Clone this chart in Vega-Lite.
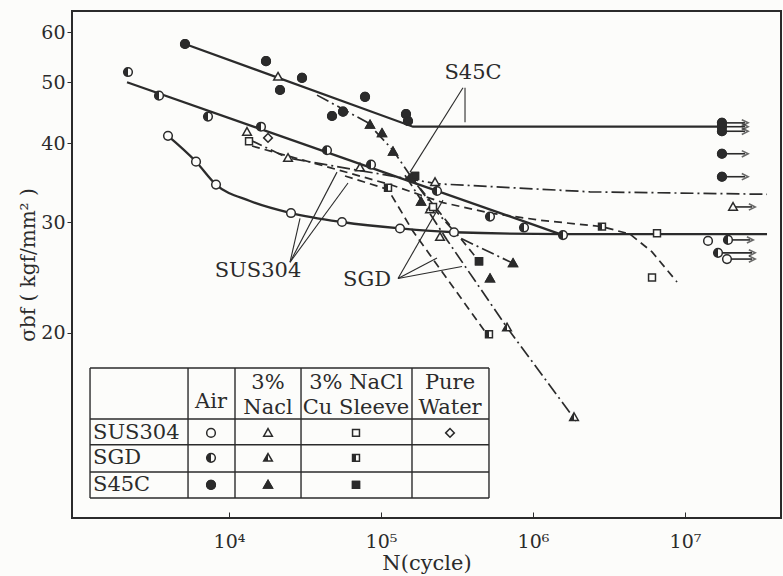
{
  "$schema": "https://vega.github.io/schema/vega-lite/v6.json",
  "width": 709,
  "height": 507,
  "autosize": {"type": "none"},
  "padding": {"left": 72, "top": 11, "right": 2, "bottom": 58},
  "background": "#fcfcfa",
  "config": {
    "font": "DejaVu Serif",
    "view": {"stroke": "#2b2b2b", "strokeWidth": 2},
    "axis": {"labelColor": "#2b2b2b", "titleColor": "#2b2b2b", "tickColor": "#2b2b2b", "titleFontWeight": "normal", "grid": false, "domain": false}
  },
  "resolve": {"scale": {"shape": "independent"}},
  "datasets": {
    "pts": [
      {"m": "S45C", "e": "Air", "N": 5134, "s": 57.5},
      {"m": "S45C", "e": "Air", "N": 17516, "s": 54.0},
      {"m": "S45C", "e": "Air", "N": 30213, "s": 50.8},
      {"m": "S45C", "e": "Air", "N": 21652, "s": 48.6},
      {"m": "S45C", "e": "Air", "N": 78485, "s": 47.4},
      {"m": "S45C", "e": "Air", "N": 47605, "s": 44.2},
      {"m": "S45C", "e": "Air", "N": 56234, "s": 44.9},
      {"m": "S45C", "e": "Air", "N": 146000, "s": 44.5},
      {"m": "S45C", "e": "Air", "N": 150500, "s": 43.4},
      {"m": "S45C", "e": "Air", "N": 159900, "s": 35.2},
      {"m": "S45C", "e": "Air", "N": 17500000, "s": 43.1},
      {"m": "S45C", "e": "Air", "N": 17500000, "s": 42.5},
      {"m": "S45C", "e": "Air", "N": 17500000, "s": 41.8},
      {"m": "S45C", "e": "Air", "N": 17500000, "s": 38.5},
      {"m": "S45C", "e": "Air", "N": 17500000, "s": 35.4},
      {"m": "S45C", "e": "NaCl", "N": 84649, "s": 42.8},
      {"m": "S45C", "e": "NaCl", "N": 101500, "s": 41.5},
      {"m": "S45C", "e": "NaCl", "N": 119930, "s": 38.8},
      {"m": "S45C", "e": "NaCl", "N": 183400, "s": 32.3},
      {"m": "S45C", "e": "NaCl", "N": 738700, "s": 25.8},
      {"m": "S45C", "e": "NaCl", "N": 521300, "s": 24.4},
      {"m": "S45C", "e": "Cu", "N": 167400, "s": 35.5},
      {"m": "S45C", "e": "Cu", "N": 441300, "s": 26.0},
      {"m": "SGD", "e": "Air", "N": 2165, "s": 51.9},
      {"m": "SGD", "e": "Air", "N": 3464, "s": 47.6},
      {"m": "SGD", "e": "Air", "N": 7274, "s": 44.1},
      {"m": "SGD", "e": "Air", "N": 16233, "s": 42.5},
      {"m": "SGD", "e": "Air", "N": 44129, "s": 39.0},
      {"m": "SGD", "e": "Air", "N": 85950, "s": 37.0},
      {"m": "SGD", "e": "Air", "N": 233600, "s": 33.6},
      {"m": "SGD", "e": "Air", "N": 521300, "s": 30.6},
      {"m": "SGD", "e": "Air", "N": 872700, "s": 29.4},
      {"m": "SGD", "e": "Air", "N": 1575000, "s": 28.6},
      {"m": "SGD", "e": "Air", "N": 19180000, "s": 28.1},
      {"m": "SGD", "e": "Air", "N": 16490000, "s": 26.8},
      {"m": "SGD", "e": "NaCl", "N": 674500, "s": 20.4},
      {"m": "SGD", "e": "NaCl", "N": 1861000, "s": 14.7},
      {"m": "SGD", "e": "Cu", "N": 111200, "s": 34.0},
      {"m": "SGD", "e": "Cu", "N": 513300, "s": 19.9},
      {"m": "SGD", "e": "Cu", "N": 2843000, "s": 29.5},
      {"m": "SUS304", "e": "Air", "N": 3968, "s": 41.1},
      {"m": "SUS304", "e": "Air", "N": 6067, "s": 37.4},
      {"m": "SUS304", "e": "Air", "N": 8213, "s": 34.4},
      {"m": "SUS304", "e": "Air", "N": 25575, "s": 31.0},
      {"m": "SUS304", "e": "Air", "N": 55385, "s": 30.0},
      {"m": "SUS304", "e": "Air", "N": 133350, "s": 29.3},
      {"m": "SUS304", "e": "Air", "N": 302100, "s": 28.9},
      {"m": "SUS304", "e": "Air", "N": 14170000, "s": 28.0},
      {"m": "SUS304", "e": "Air", "N": 18890000, "s": 26.2},
      {"m": "SUS304", "e": "NaCl", "N": 21011, "s": 51.0},
      {"m": "SUS304", "e": "NaCl", "N": 13133, "s": 41.7},
      {"m": "SUS304", "e": "NaCl", "N": 24443, "s": 37.9},
      {"m": "SUS304", "e": "NaCl", "N": 72739, "s": 36.6},
      {"m": "SUS304", "e": "NaCl", "N": 226700, "s": 34.7},
      {"m": "SUS304", "e": "NaCl", "N": 210100, "s": 31.4},
      {"m": "SUS304", "e": "NaCl", "N": 244400, "s": 28.4},
      {"m": "SUS304", "e": "NaCl", "N": 20700000, "s": 31.7},
      {"m": "SUS304", "e": "Cu", "N": 13540, "s": 40.3},
      {"m": "SUS304", "e": "Cu", "N": 219900, "s": 31.7},
      {"m": "SUS304", "e": "Cu", "N": 6543000, "s": 28.8},
      {"m": "SUS304", "e": "Cu", "N": 6067000, "s": 24.5},
      {"m": "SUS304", "e": "Water", "N": 18057, "s": 40.8},
      {"m": "SUS304", "e": "Air", "N": 7613, "s": 13.88, "key": true},
      {"m": "SUS304", "e": "NaCl", "N": 18057, "s": 13.88, "key": true},
      {"m": "SUS304", "e": "Cu", "N": 68470, "s": 13.88, "key": true},
      {"m": "SUS304", "e": "Water", "N": 284400, "s": 13.88, "key": true},
      {"m": "SGD", "e": "Air", "N": 7613, "s": 12.67, "key": true},
      {"m": "SGD", "e": "NaCl", "N": 18057, "s": 12.67, "key": true},
      {"m": "SGD", "e": "Cu", "N": 68470, "s": 12.67, "key": true},
      {"m": "S45C", "e": "Air", "N": 7613, "s": 11.48, "key": true},
      {"m": "S45C", "e": "NaCl", "N": 18057, "s": 11.48, "key": true},
      {"m": "S45C", "e": "Cu", "N": 68470, "s": 11.48, "key": true}
    ],
    "lines": [
      {"id": "S45C-Air", "sty": "solid", "c": 0, "o": 1, "N": 5134, "s": 57.5},
      {"id": "S45C-Air", "sty": "solid", "c": 0, "o": 2, "N": 162330, "s": 42.5},
      {"id": "S45C-Air", "sty": "solid", "c": 0, "o": 3, "N": 17516000, "s": 42.5},
      {"id": "SGD-Air", "sty": "solid", "c": 0, "o": 1, "N": 2133, "s": 50.0},
      {"id": "SGD-Air", "sty": "solid", "c": 0, "o": 2, "N": 1575000, "s": 28.6},
      {"id": "SUS304-Air", "sty": "solid", "c": 1, "o": 1, "N": 3968, "s": 41.1},
      {"id": "SUS304-Air", "sty": "solid", "c": 1, "o": 2, "N": 6067, "s": 37.4},
      {"id": "SUS304-Air", "sty": "solid", "c": 1, "o": 3, "N": 8213, "s": 34.4},
      {"id": "SUS304-Air", "sty": "solid", "c": 1, "o": 4, "N": 13744, "s": 32.4},
      {"id": "SUS304-Air", "sty": "solid", "c": 1, "o": 5, "N": 25575, "s": 31.0},
      {"id": "SUS304-Air", "sty": "solid", "c": 1, "o": 6, "N": 55385, "s": 30.0},
      {"id": "SUS304-Air", "sty": "solid", "c": 1, "o": 7, "N": 133350, "s": 29.3},
      {"id": "SUS304-Air", "sty": "solid", "c": 1, "o": 8, "N": 302100, "s": 28.9},
      {"id": "SUS304-Air", "sty": "solid", "c": 1, "o": 9, "N": 1575000, "s": 28.7},
      {"id": "SUS304-Air", "sty": "solid", "c": 1, "o": 10, "N": 34640000, "s": 28.7},
      {"id": "S45C-NaCl", "sty": "dashdot", "o": 1, "N": 37931, "s": 47.7},
      {"id": "S45C-NaCl", "sty": "dashdot", "o": 2, "N": 80906, "s": 43.2},
      {"id": "S45C-NaCl", "sty": "dashdot", "o": 3, "N": 119930, "s": 39.0},
      {"id": "S45C-NaCl", "sty": "dashdot", "o": 4, "N": 155200, "s": 35.6},
      {"id": "S45C-NaCl", "sty": "dashdot", "o": 5, "N": 233600, "s": 31.1},
      {"id": "S45C-NaCl", "sty": "dashdot", "o": 6, "N": 330900, "s": 28.3},
      {"id": "S45C-NaCl", "sty": "dashdot", "o": 7, "N": 738700, "s": 25.8},
      {"id": "SGD-NaCl", "sty": "dashdot", "o": 1, "N": 143800, "s": 35.6},
      {"id": "SGD-NaCl", "sty": "dashdot", "o": 2, "N": 271800, "s": 28.1},
      {"id": "SGD-NaCl", "sty": "dashdot", "o": 3, "N": 674500, "s": 20.4},
      {"id": "SGD-NaCl", "sty": "dashdot", "o": 4, "N": 1918000, "s": 14.5},
      {"id": "SGD-Cu", "sty": "dash", "o": 1, "N": 57980, "s": 35.5},
      {"id": "SGD-Cu", "sty": "dash", "o": 2, "N": 111200, "s": 33.8},
      {"id": "SGD-Cu", "sty": "dash", "o": 3, "N": 162330, "s": 29.0},
      {"id": "SGD-Cu", "sty": "dash", "o": 4, "N": 490800, "s": 20.0},
      {"id": "SUS304-NaCl", "sty": "dashdot", "o": 1, "N": 13744, "s": 40.5},
      {"id": "SUS304-NaCl", "sty": "dashdot", "o": 2, "N": 24443, "s": 37.9},
      {"id": "SUS304-NaCl", "sty": "dashdot", "o": 3, "N": 72739, "s": 36.2},
      {"id": "SUS304-NaCl", "sty": "dashdot", "o": 4, "N": 233600, "s": 34.5},
      {"id": "SUS304-NaCl", "sty": "dashdot", "o": 5, "N": 2371000, "s": 33.5},
      {"id": "SUS304-NaCl", "sty": "dashdot", "o": 6, "N": 34640000, "s": 33.2},
      {"id": "SUS304-Cu", "sty": "dash", "o": 1, "N": 14170, "s": 39.6},
      {"id": "SUS304-Cu", "sty": "dash", "o": 2, "N": 46190, "s": 36.6},
      {"id": "SUS304-Cu", "sty": "dash", "o": 3, "N": 114600, "s": 34.4},
      {"id": "SUS304-Cu", "sty": "dash", "o": 4, "N": 255700, "s": 32.2},
      {"id": "SUS304-Cu", "sty": "dash", "o": 5, "N": 521300, "s": 31.0},
      {"id": "SUS304-Cu", "sty": "dash", "o": 6, "N": 1112000, "s": 30.2},
      {"id": "SUS304-Cu", "sty": "dash", "o": 7, "N": 2843000, "s": 29.5},
      {"id": "SUS304-Cu", "sty": "dash", "o": 8, "N": 4347000, "s": 28.7},
      {"id": "SUS304-Cu", "sty": "dash", "o": 9, "N": 6067000, "s": 26.9},
      {"id": "SUS304-Cu", "sty": "dash", "o": 10, "N": 8859000, "s": 24.1},
      {"id": "S45C-Cu", "sty": "dash", "o": 1, "N": 159900, "s": 35.2},
      {"id": "S45C-Cu", "sty": "dash", "o": 2, "N": 441300, "s": 26.0}
    ],
    "table": [
      {"N": 1218, "s": 17.6, "N2": 513300, "s2": 17.6},
      {"N": 1218, "s": 14.6, "N2": 513300, "s2": 14.6},
      {"N": 1218, "s": 13.29, "N2": 513300, "s2": 13.29},
      {"N": 1218, "s": 12.03, "N2": 513300, "s2": 12.03},
      {"N": 1218, "s": 10.94, "N2": 513300, "s2": 10.94},
      {"N": 1218, "s": 10.94, "N2": 1218, "s2": 17.6},
      {"N": 5375, "s": 10.94, "N2": 5375, "s2": 17.6},
      {"N": 10950, "s": 10.94, "N2": 10950, "s2": 17.6},
      {"N": 29770, "s": 10.94, "N2": 29770, "s2": 17.6},
      {"N": 159900, "s": 10.94, "N2": 159900, "s2": 17.6},
      {"N": 513300, "s": 10.94, "N2": 513300, "s2": 17.6}
    ],
    "notes": [
      {"N": 357000, "s": 49.0, "N2": 357000, "s2": 43.2},
      {"N": 346300, "s": 49.0, "N2": 155200, "s2": 36.0},
      {"N": 25200, "s": 25.9, "N2": 51340, "s2": 36.0},
      {"N": 25200, "s": 25.9, "N2": 60670, "s2": 34.6},
      {"N": 25200, "s": 25.9, "N2": 29320, "s2": 30.4},
      {"N": 129400, "s": 24.4, "N2": 255700, "s2": 32.5},
      {"N": 129400, "s": 24.4, "N2": 233600, "s2": 26.3},
      {"N": 129400, "s": 24.4, "N2": 341200, "s2": 25.5}
    ],
    "runouts": [
      {"N": 17500000, "s": 43.1, "N2": 24800000},
      {"N": 17500000, "s": 42.5, "N2": 24800000},
      {"N": 17500000, "s": 41.8, "N2": 24800000},
      {"N": 17500000, "s": 38.5, "N2": 24800000},
      {"N": 17500000, "s": 35.4, "N2": 24800000},
      {"N": 20700000, "s": 31.7, "N2": 27600000},
      {"N": 19180000, "s": 28.1, "N2": 26800000},
      {"N": 16490000, "s": 26.8, "N2": 27600000},
      {"N": 18890000, "s": 26.2, "N2": 27600000}
    ],
    "texts": [
      {"txt": "S45C", "N": 402900, "s": 51.7, "k": "note"},
      {"txt": "SUS304", "N": 15510, "s": 25.1, "k": "note"},
      {"txt": "SGD", "N": 80906, "s": 24.3, "k": "note"},
      {"txt": "Air", "N": 7613, "s": 15.54, "k": "cell"},
      {"txt": "3%", "N": 18057, "s": 16.66, "k": "cell"},
      {"txt": "Nacl", "N": 18057, "s": 15.2, "k": "cell"},
      {"txt": "3% NaCl", "N": 68470, "s": 16.66, "k": "cell"},
      {"txt": "Cu Sleeve", "N": 68470, "s": 15.2, "k": "cell"},
      {"txt": "Pure", "N": 284400, "s": 16.66, "k": "cell"},
      {"txt": "Water", "N": 284400, "s": 15.2, "k": "cell"},
      {"txt": "SUS304", "N": 1274, "s": 13.88, "k": "row"},
      {"txt": "SGD", "N": 1274, "s": 12.67, "k": "row"},
      {"txt": "S45C", "N": 1274, "s": 11.48, "k": "row"}
    ]
  },
  "encoding": {
    "x": {
      "field": "N", "type": "quantitative",
      "scale": {"type": "log", "domain": [926.9, 42810000], "nice": false},
      "axis": {
        "title": "N(cycle)",
        "values": [10000, 100000, 1000000, 10000000],
        "labelExpr": "datum.value == 10000 ? '10⁴' : datum.value == 100000 ? '10⁵' : datum.value == 1000000 ? '10⁶' : '10⁷'",
        "tickSize": -6, "labelFontSize": 19, "labelPadding": 20,
        "titleFontSize": 21, "titlePadding": 1
      }
    },
    "y": {
      "field": "s", "type": "quantitative",
      "scale": {"type": "log", "domain": [10.17, 64.87], "nice": false},
      "axis": {
        "title": "σbf ( kgf/mm² )",
        "values": [20, 30, 40, 50, 60],
        "tickSize": 5, "labelFontSize": 19, "labelPadding": 2,
        "titleFontSize": 20, "titlePadding": 2
      }
    }
  },
  "layer": [
    {
      "data": {"name": "table"},
      "mark": {"type": "rule", "color": "#2b2b2b", "strokeWidth": 1.4},
      "encoding": {"x2": {"field": "N2"}, "y2": {"field": "s2"}}
    },
    {
      "data": {"name": "lines"},
      "transform": [{"filter": "datum.sty == 'solid' && datum.c == 0"}],
      "mark": {"type": "line", "color": "#2b2b2b", "strokeWidth": 2.3},
      "encoding": {"detail": {"field": "id"}, "order": {"field": "o"}}
    },
    {
      "data": {"name": "lines"},
      "transform": [{"filter": "datum.sty == 'solid' && datum.c == 1"}],
      "mark": {"type": "line", "color": "#2b2b2b", "strokeWidth": 2.3, "interpolate": "monotone"},
      "encoding": {"detail": {"field": "id"}, "order": {"field": "o"}}
    },
    {
      "data": {"name": "lines"},
      "transform": [{"filter": "datum.sty != 'solid'"}],
      "mark": {"type": "line", "color": "#2b2b2b", "strokeWidth": 1.7},
      "encoding": {
        "detail": {"field": "id"},
        "order": {"field": "o"},
        "strokeDash": {"field": "sty", "type": "nominal", "scale": {"domain": ["dash", "dashdot"], "range": [[8, 5], [13, 4, 2, 4]]}, "legend": null}
      }
    },
    {
      "data": {"name": "notes"},
      "mark": {"type": "rule", "color": "#2b2b2b", "strokeWidth": 1.1},
      "encoding": {"x2": {"field": "N2"}, "y2": {"field": "s2"}}
    },
    {
      "data": {"name": "runouts"},
      "mark": {"type": "rule", "color": "#2b2b2b", "strokeWidth": 1.6},
      "encoding": {"x2": {"field": "N2"}}
    },
    {
      "data": {"name": "runouts"},
      "mark": {"type": "point", "shape": "M-1,-1L1,0L-1,1", "filled": false, "stroke": "#2b2b2b", "strokeWidth": 1.6, "size": 40},
      "encoding": {"x": {"field": "N2", "type": "quantitative"}}
    },
    {
      "data": {"name": "pts"},
      "mark": {"type": "point", "filled": true, "fill": "#fcfcfa", "stroke": "#2b2b2b", "strokeWidth": 1.5, "size": 75, "opacity": 1},
      "encoding": {
        "shape": {"field": "e", "type": "nominal", "scale": {"domain": ["Air", "NaCl", "Cu", "Water"], "range": ["circle", "M0,-1L1,0.75L-1,0.75Z", "M-0.8,-0.8L0.8,-0.8L0.8,0.8L-0.8,0.8Z", "diamond"]}, "legend": null}
      }
    },
    {
      "data": {"name": "pts"},
      "transform": [{"filter": "datum.m == 'S45C'"}],
      "mark": {"type": "point", "filled": true, "fill": "#2b2b2b", "stroke": "#2b2b2b", "strokeWidth": 1.5, "size": 75, "opacity": 1},
      "encoding": {
        "shape": {"field": "e", "type": "nominal", "scale": {"domain": ["Air", "NaCl", "Cu", "Water"], "range": ["circle", "M0,-1L1,0.75L-1,0.75Z", "M-0.8,-0.8L0.8,-0.8L0.8,0.8L-0.8,0.8Z", "diamond"]}, "legend": null}
      }
    },
    {
      "data": {"name": "pts"},
      "transform": [{"filter": "datum.m == 'SGD'"}],
      "mark": {"type": "point", "filled": true, "fill": "#2b2b2b", "strokeWidth": 0, "size": 75, "opacity": 1},
      "encoding": {
        "shape": {"field": "e", "type": "nominal", "scale": {"domain": ["Air", "NaCl", "Cu", "Water"], "range": ["M0,-1A1,1,0,0,0,0,1Z", "M0,-1L0,0.75L-1,0.75Z", "M-0.8,-0.8L0,-0.8L0,0.8L-0.8,0.8Z", "diamond"]}, "legend": null}
      }
    },
    {
      "data": {"name": "texts"},
      "transform": [{"filter": "datum.k == 'row'"}],
      "mark": {"type": "text", "align": "left", "baseline": "middle", "fontSize": 21, "color": "#2b2b2b"},
      "encoding": {"text": {"field": "txt"}}
    },
    {
      "data": {"name": "texts"},
      "transform": [{"filter": "datum.k != 'row'"}],
      "mark": {"type": "text", "align": "center", "baseline": "middle", "fontSize": 21, "color": "#2b2b2b"},
      "encoding": {"text": {"field": "txt"}}
    }
  ]
}
